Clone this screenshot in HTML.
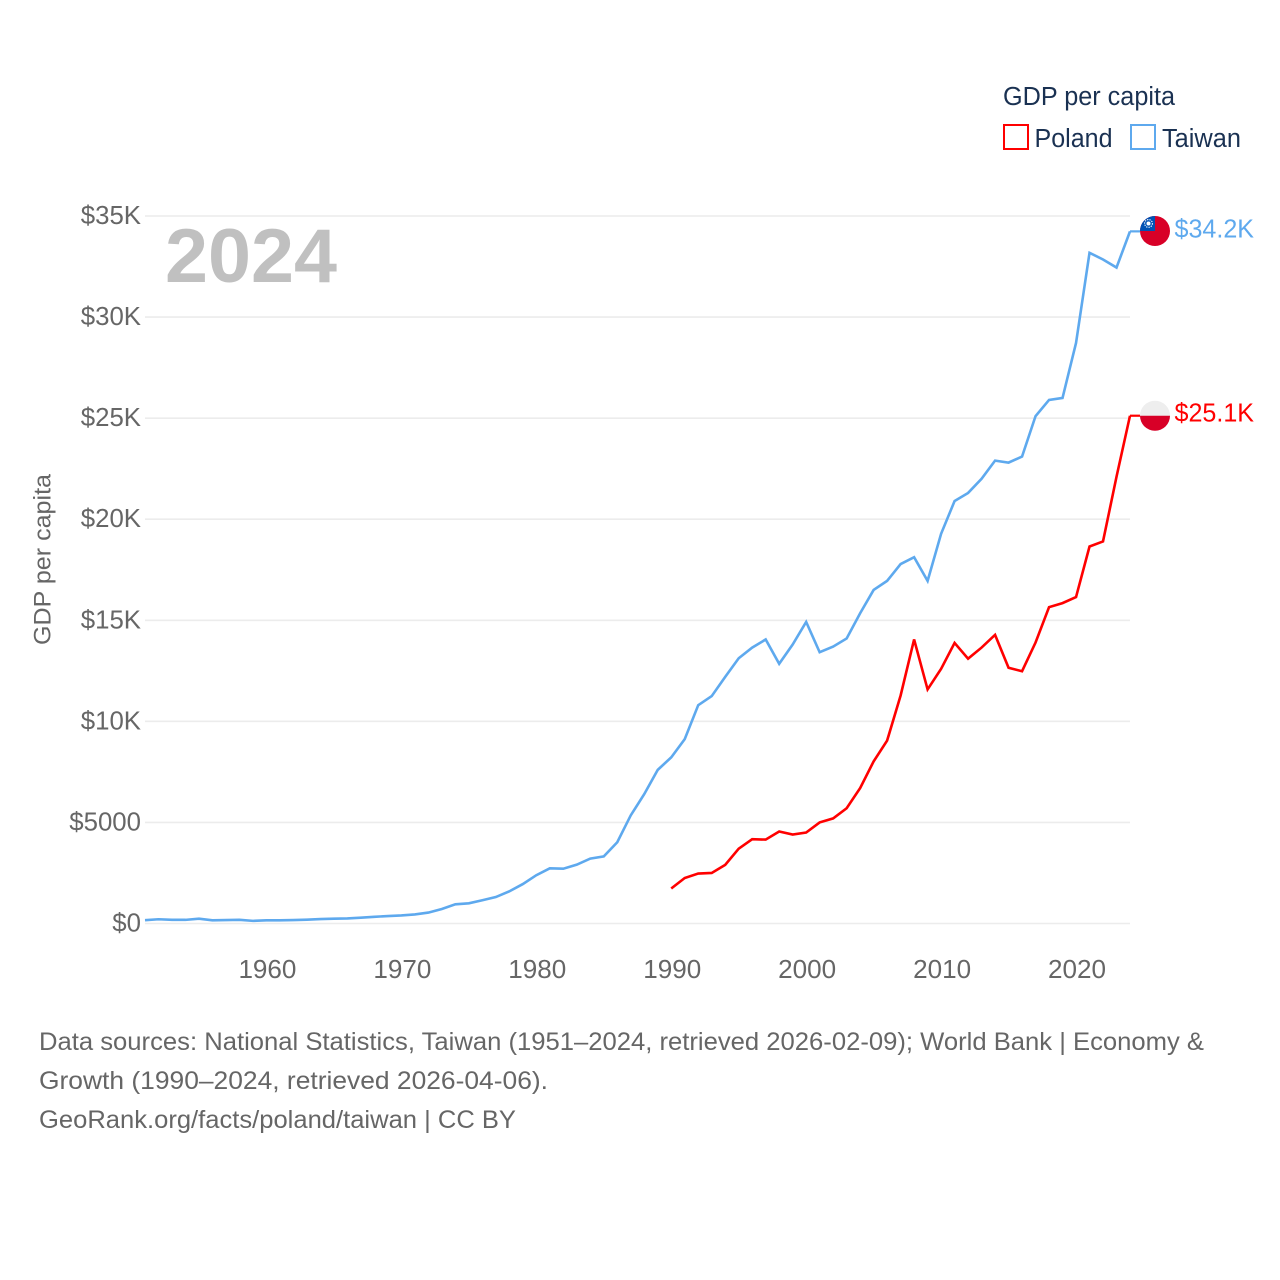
<!DOCTYPE html>
<html lang="en">
<head>
<meta charset="utf-8">
<title>GDP per capita: Poland and Taiwan</title>
<style>
html,body{margin:0;padding:0;background:#fff;}
svg{display:block;}
text{font-family:"Liberation Sans",sans-serif;}
</style>
</head>
<body>
<svg id="chart" width="1280" height="1280" viewBox="0 0 1280 1280" xmlns="http://www.w3.org/2000/svg">
  <rect x="0" y="0" width="1280" height="1280" fill="#fff"/>
  <g id="grid"></g>
  <g id="yticks"></g>
  <g id="xticks"></g>
  <text x="165" y="282" font-size="76" font-weight="700" fill="#c0c0c0" textLength="172" lengthAdjust="spacingAndGlyphs">2024</text>
  <text transform="translate(50.5,645) rotate(-90)" font-size="24.5" fill="#666" textLength="171" lengthAdjust="spacingAndGlyphs">GDP per capita</text>
  <g id="series"></g>
  <g id="endpoints"></g>
  <g>
    <text x="1003" y="105" font-size="25.5" fill="#1a3152" textLength="172" lengthAdjust="spacingAndGlyphs">GDP per capita</text>
    <rect x="1004" y="125" width="24" height="24" fill="#fff" stroke="#ff0000" stroke-width="2"/>
    <text x="1034.5" y="147" font-size="25.5" fill="#1a3152" textLength="78" lengthAdjust="spacingAndGlyphs">Poland</text>
    <rect x="1131" y="125" width="24" height="24" fill="#fff" stroke="#5ea9ee" stroke-width="2"/>
    <text x="1162" y="147" font-size="25.5" fill="#1a3152" textLength="79" lengthAdjust="spacingAndGlyphs">Taiwan</text>
  </g>
  <g font-size="25" fill="#666">
    <text x="39" y="1050" textLength="1165" lengthAdjust="spacingAndGlyphs">Data sources: National Statistics, Taiwan (1951–2024, retrieved 2026-02-09); World Bank | Economy &amp;</text>
    <text x="39" y="1089" textLength="509" lengthAdjust="spacingAndGlyphs">Growth (1990–2024, retrieved 2026-04-06).</text>
    <text x="39" y="1128" textLength="477" lengthAdjust="spacingAndGlyphs">GeoRank.org/facts/poland/taiwan | CC BY</text>
  </g>
</svg>
<script>
const yTickValues = [0, 5000, 10000, 15000, 20000, 25000, 30000, 35000];
const yTickLabels = ["$0", "$5000", "$10K", "$15K", "$20K", "$25K", "$30K", "$35K"];
const xTickYears = [1960, 1970, 1980, 1990, 2000, 2010, 2020];
const taiwanStartYear = 1951;
const taiwanValues = [
  165, 210, 180, 180, 240, 160, 170, 180, 130,
  160, 160, 170, 190, 220, 240, 250, 290, 330, 370,
  400, 450, 540, 720, 950, 1000, 1150, 1310, 1590, 1950,
  2390, 2730, 2710, 2910, 3210, 3320, 4020, 5350, 6400, 7600,
  8220, 9120, 10800, 11250, 12200, 13120, 13650, 14050, 12850, 13800,
  14920, 13420, 13700, 14100, 15350, 16500, 16950, 17780, 18120, 16950,
  19280, 20900, 21300, 22000, 22900, 22800, 23100, 25100, 25900, 26000,
  28720, 33180, 32850, 32450, 34240
];
const polandStartYear = 1990;
const polandValues = [
  1730, 2250, 2470, 2500, 2900, 3700, 4170, 4150, 4550, 4400,
  4500, 5000, 5200, 5700, 6700, 8020, 9050, 11280, 14050, 11580,
  12600, 13880, 13100, 13650, 14280, 12650, 12480, 13900, 15650, 15850,
  16150, 18650, 18900, 22100, 25120
];

const SVG_NS = "http://www.w3.org/2000/svg";
const xMinYear = 1951, xMaxYear = 2024, xLeft = 145, xRight = 1130;
const yBase = 923.5, yTop = 216, yMaxValue = 35000;
function xScale(year) {
  return xLeft + (year - xMinYear) * (xRight - xLeft) / (xMaxYear - xMinYear);
}
function yScale(value) {
  return yBase - value * (yBase - yTop) / yMaxValue;
}
function make(tag, attrs, parent, text) {
  const el = document.createElementNS(SVG_NS, tag);
  for (const k in attrs) el.setAttribute(k, attrs[k]);
  if (text !== undefined) el.textContent = text;
  parent.appendChild(el);
  return el;
}
function formatLabel(value) {
  return "$" + (value / 1000).toFixed(1) + "K";
}

const gridGroup = document.getElementById("grid");
const yGroup = document.getElementById("yticks");
const xGroup = document.getElementById("xticks");
const seriesGroup = document.getElementById("series");
const endGroup = document.getElementById("endpoints");

yTickValues.forEach(function (v, i) {
  const line = make("line", {x1: xLeft, x2: xRight, y1: yScale(v), y2: yScale(v), stroke: "#ececec", "stroke-width": 1.6}, gridGroup);
  
  
  const label = make("text", {x: 141, y: yScale(v) + 8, "text-anchor": "end", "font-size": 25.8, fill: "#666"}, yGroup, yTickLabels[i]);
  
  
});

xTickYears.forEach(function (year) {
  const label = make("text", {x: xScale(year) + 1, y: 978, "text-anchor": "middle", "font-size": 26, fill: "#666", textLength: 58, lengthAdjust: "spacingAndGlyphs"}, xGroup, String(year));
  
  
});

function linePoints(startYear, values) {
  return values.map(function (v, i) {
    return xScale(startYear + i).toFixed(2) + "," + yScale(v).toFixed(2);
  }).join(" ");
}

const taiwanLine = make("polyline", {points: linePoints(taiwanStartYear, taiwanValues), fill: "none", stroke: "#5ea9ee", "stroke-width": 2.6, "stroke-linejoin": "miter"}, seriesGroup);



const polandLine = make("polyline", {points: linePoints(polandStartYear, polandValues), fill: "none", stroke: "#ff0000", "stroke-width": 2.6, "stroke-linejoin": "miter"}, seriesGroup);



const twLast = taiwanValues[taiwanValues.length - 1];
const plLast = polandValues[polandValues.length - 1];
const flagX = 1155;
const twY = yScale(twLast);
const plY = yScale(plLast);

const twConnector = make("line", {x1: xRight, x2: flagX - 15, y1: twY, y2: twY, stroke: "#5ea9ee", "stroke-width": 2.2}, endGroup);


const plConnector = make("line", {x1: xRight, x2: flagX - 15, y1: plY, y2: plY, stroke: "#ff0000", "stroke-width": 2.2}, endGroup);



/* Taiwan flag */
const twFlag = make("g", {transform: "translate(" + flagX + "," + (twY - 0.4) + ")"}, endGroup);


make("circle", {r: 15, fill: "#d80027"}, twFlag);
make("path", {d: "M-15,0 A15,15 0 0 1 0,-15 L0,0 Z", fill: "#0052b4"}, twFlag);
make("circle", {cx: -6.5, cy: -7.5, r: 3.9, fill: "none", stroke: "#fff", "stroke-width": 1.1, "stroke-dasharray": "1.3 1.1"}, twFlag);
make("circle", {cx: -6.5, cy: -7.5, r: 2, fill: "#fff"}, twFlag);

/* Poland flag */
const plFlag = make("g", {transform: "translate(" + flagX + "," + plY + ")"}, endGroup);


make("circle", {r: 15, fill: "#eeeeee"}, plFlag);
make("path", {d: "M-15,0 A15,15 0 0 0 15,0 Z", fill: "#d80027"}, plFlag);

const twLabel = make("text", {x: 1174.5, y: twY + 6, "font-size": 25.8, fill: "#5ea9ee", textLength: 79.5, lengthAdjust: "spacingAndGlyphs"}, endGroup, formatLabel(twLast));


const plLabel = make("text", {x: 1174.5, y: plY + 6, "font-size": 25.8, fill: "#ff0000", textLength: 79.5, lengthAdjust: "spacingAndGlyphs"}, endGroup, formatLabel(plLast));


</script>
</body>
</html>
